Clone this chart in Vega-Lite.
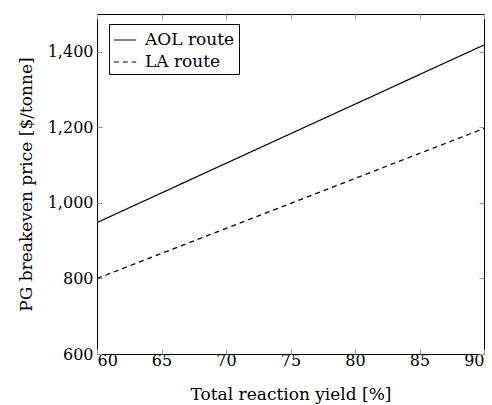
{
  "$schema": "https://vega.github.io/schema/vega-lite/v6.json",
  "width": 387,
  "height": 340,
  "autosize": {"type": "none"},
  "padding": {"left": 97, "top": 14, "right": 8, "bottom": 51},
  "background": "white",
  "config": {
    "font": "DejaVu Serif",
    "view": {"stroke": "black", "strokeWidth": 1},
    "axis": {"grid": false, "domain": false, "labelFont": "DejaVu Serif", "titleFont": "DejaVu Serif", "labelColor": "black", "titleColor": "black", "labelFontSize": 16, "titleFontSize": 17, "titleFontWeight": "normal", "tickColor": "#999", "tickSize": -5, "tickWidth": 1}
  },
  "data": {"values": [
    {"yield": 60, "price": 948, "route": "AOL route"},
    {"yield": 90, "price": 1418, "route": "AOL route"},
    {"yield": 60, "price": 800, "route": "LA route"},
    {"yield": 90, "price": 1197, "route": "LA route"}
  ]},
  "layer": [
    {
      "mark": {"type": "line", "color": "black", "strokeWidth": 1.2},
      "encoding": {
        "x": {"field": "yield", "type": "quantitative", "scale": {"domain": [60, 90], "nice": false}, "axis": {"orient": "bottom", "title": "Total reaction yield [%]", "values": [60, 65, 70, 75, 80, 85, 90], "labelPadding": 3, "titlePadding": 18}},
        "y": {"field": "price", "type": "quantitative", "scale": {"domain": [600, 1500], "nice": false, "zero": false}, "axis": {"orient": "left", "title": "PG breakeven price [$/tonne]", "values": [600, 800, 1000, 1200, 1400], "format": ",d", "labelPadding": 9, "titlePadding": 12}},
        "strokeDash": {"field": "route", "type": "nominal", "scale": {"domain": ["AOL route", "LA route"], "range": [[1, 0], [5, 4]]}, "legend": {"title": null, "orient": "none", "legendX": 12, "legendY": 10, "strokeColor": "black", "fillColor": "white", "padding": 4, "symbolType": "stroke", "symbolSize": 500, "symbolStrokeColor": "black", "symbolStrokeWidth": 1.2, "labelFont": "DejaVu Serif", "labelFontSize": 17, "labelColor": "black", "rowPadding": 2, "cornerRadius": 0, "labelOffset": 8}}
      }
    },
    {
      "mark": {"type": "line", "opacity": 0},
      "encoding": {
        "x": {"field": "yield", "type": "quantitative", "axis": {"orient": "top", "title": null, "labels": false, "values": [60, 65, 70, 75, 80, 85, 90]}},
        "y": {"field": "price", "type": "quantitative", "axis": {"orient": "right", "title": null, "labels": false, "values": [600, 800, 1000, 1200, 1400]}},
        "detail": {"field": "route", "type": "nominal"}
      }
    }
  ]
}
